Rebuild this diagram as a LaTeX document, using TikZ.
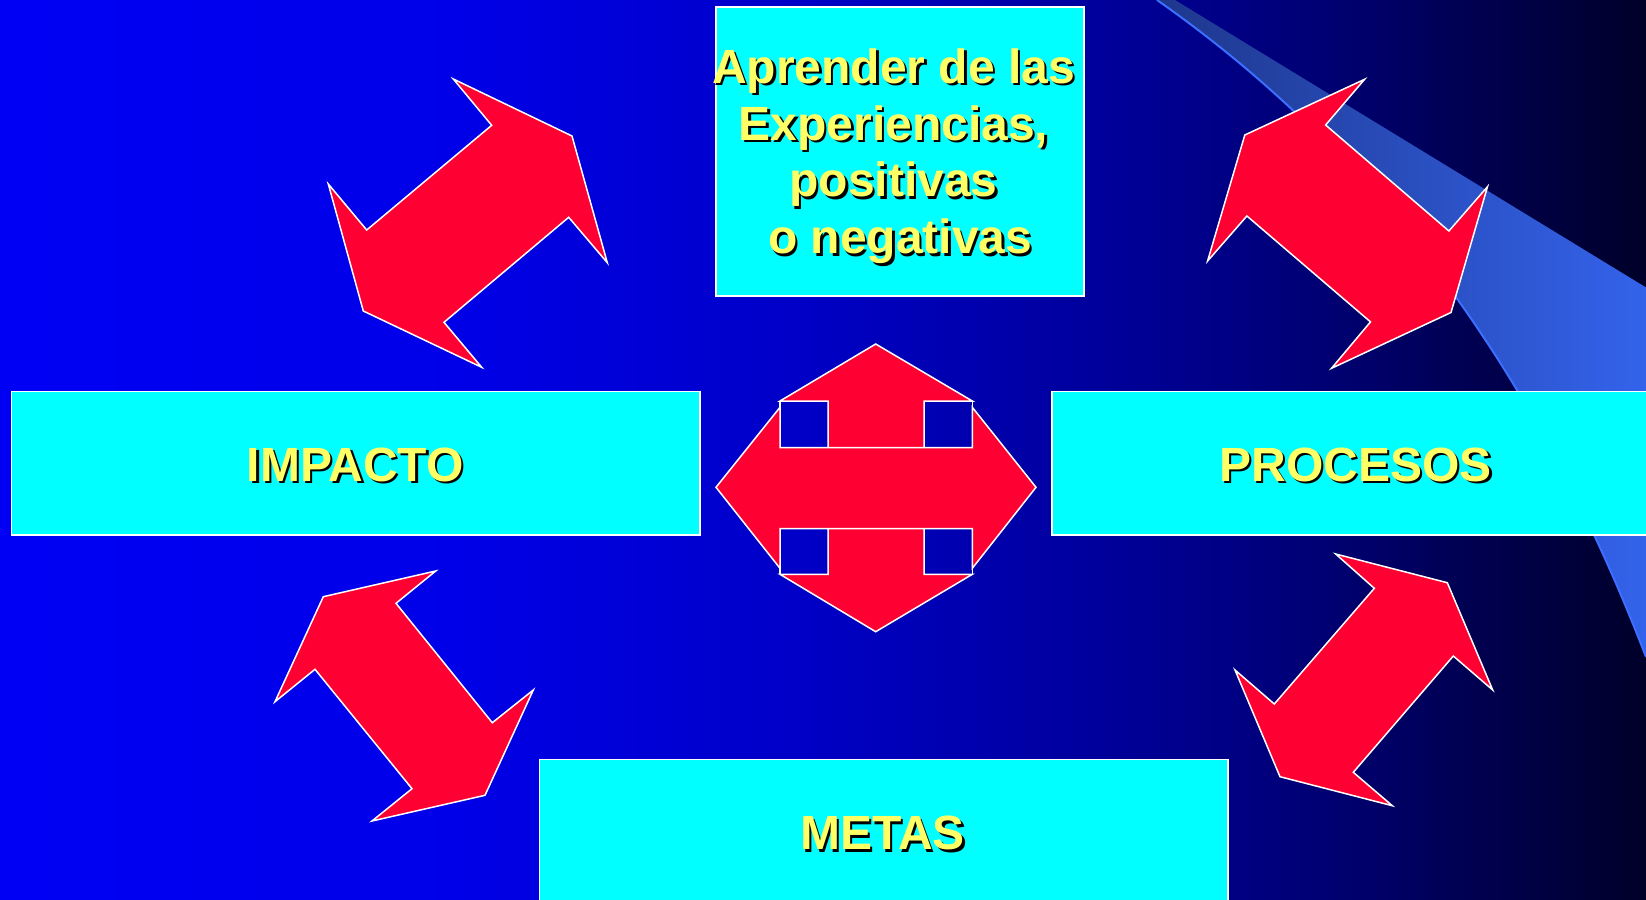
\documentclass[tikz,border=0pt]{standalone}
\usepackage{fontspec}
\setmainfont{Liberation Sans}
\definecolor{swL}{RGB}{30,55,140}
\definecolor{swR}{RGB}{52,100,238}
\definecolor{swE}{RGB}{60,110,255}
\definecolor{boxc}{RGB}{0,255,255}
\definecolor{arr}{RGB}{255,0,51}
\definecolor{txt}{RGB}{255,255,102}
\pgfdeclarehorizontalshading{bgshade}{100bp}{%
  rgb(0bp)=(0,0,0.96); rgb(25bp)=(0,0,0.96); rgb(38.67bp)=(0,0,0.91);
  rgb(49.3bp)=(0,0,0.78); rgb(58.41bp)=(0,0,0.61); rgb(66.01bp)=(0,0,0.43);
  rgb(75bp)=(0,0,0.16); rgb(100bp)=(0,0,0.16)}
\newcommand\shtext[3]{%
  \node[lblshadow] (#1s) at (#2) {#3};
  \node[lbl] (#1) at (#2) {#3};}
\begin{document}
\begin{tikzpicture}[x=0.5pt,y=-0.5pt,
  box/.style={draw=white, line width=0.75pt, fill=boxc, inner sep=0pt, outer sep=0pt, anchor=north west},
  arrowshape/.style={draw=white, line width=0.75pt, fill=arr},
  lbl/.style={anchor=base, text=txt, font=\bfseries\fontsize{24}{29}\selectfont, inner sep=0pt, outer sep=0pt},
  lblshadow/.style={lbl, text=black, xshift=1.25pt, yshift=-1.25pt}]
\useasboundingbox (0,0) rectangle (1646,900);
% background
\shade[shading=bgshade] (0,0) rectangle (1646,900);
% swoosh
\shade[left color=swL, right color=swR]
  (1157,0) .. controls (1377,154) and (1536,371) .. (1646,657)
  -- (1660,657) -- (1660,296) -- (1175,0) -- cycle;
\draw[swE, line width=1pt] (1157,0) .. controls (1377,154) and (1536,371) .. (1646,657);
% boxes
\node[box, minimum width=184pt, minimum height=144.5pt] (top) at (716,7) {};
\node[box, minimum width=344.25pt, minimum height=71.75pt] (impacto) at (11.5,391.5) {};
\node[box, minimum width=310pt, minimum height=71.75pt] (procesos) at (1052,391.5) {};
\node[box, minimum width=344.25pt, minimum height=71.75pt] (metas) at (539.5,759.5) {};
% double arrows
\draw[arrowshape] (453.3,79) -- (572,136) -- (607.3,262.7) -- (568.7,217.3) -- (444,322.3) -- (481.7,367.3) -- (363.3,311) -- (328.3,184) -- (366.7,230) -- (491.7,125.3) -- cycle;
\draw[arrowshape] (1364.6,79.3) -- (1325.6,125) -- (1448.9,231) -- (1487.5,186.7) -- (1451,312.5) -- (1331.5,368.3) -- (1370.5,321.9) -- (1246.9,216) -- (1207.6,261) -- (1244.8,135) -- cycle;
\draw[arrowshape] (435.7,571) -- (396,603.3) -- (492.3,722.7) -- (533.3,690) -- (485,795.3) -- (372,821) -- (412,788.7) -- (315,669.3) -- (275,701.7) -- (323.3,596.7) -- cycle;
\draw[arrowshape] (1335.7,554) -- (1447.3,582.7) -- (1492.7,690) -- (1453.3,656) -- (1353.3,772.3) -- (1392.3,805.7) -- (1280,776.7) -- (1235,670) -- (1274.3,704) -- (1374.3,588.3) -- cycle;
% central four-way arrow: vertical double arrow, then horizontal one over it
\draw[arrowshape] (875.7,344) -- (972.3,401) -- (924,401) -- (924,574.3) -- (972.3,574.3) -- (875.7,631.7) -- (780,574.3) -- (828,574.3) -- (828,401) -- (780,401) -- cycle;
\draw[arrowshape] (716,487.3) -- (780,407.3) -- (780,447.7) -- (972.3,447.7) -- (972.3,407.3) -- (1036,487.3) -- (972.3,568.3) -- (972.3,528.7) -- (780,528.7) -- (780,568.3) -- cycle;
\draw[white, line width=0.75pt] (780,401) -- (780,407.3) (972.3,401) -- (972.3,407.3) (780,574.3) -- (780,568.3) (972.3,574.3) -- (972.3,568.3);
% texts
\shtext{t1}{893.5,83.3}{Aprender de las}
\shtext{t2}{893.5,140}{Experiencias,}
\shtext{t3}{893.5,196.7}{positivas}
\shtext{t4}{893.5,253.5}{\hspace*{0.278em}o negativas}
\shtext{timp}{355.3,481}{IMPACTO}
\shtext{tpro}{1355.5,481}{PROCESOS}
\shtext{tmet}{882.5,849.5}{METAS}
\end{tikzpicture}
\end{document}
